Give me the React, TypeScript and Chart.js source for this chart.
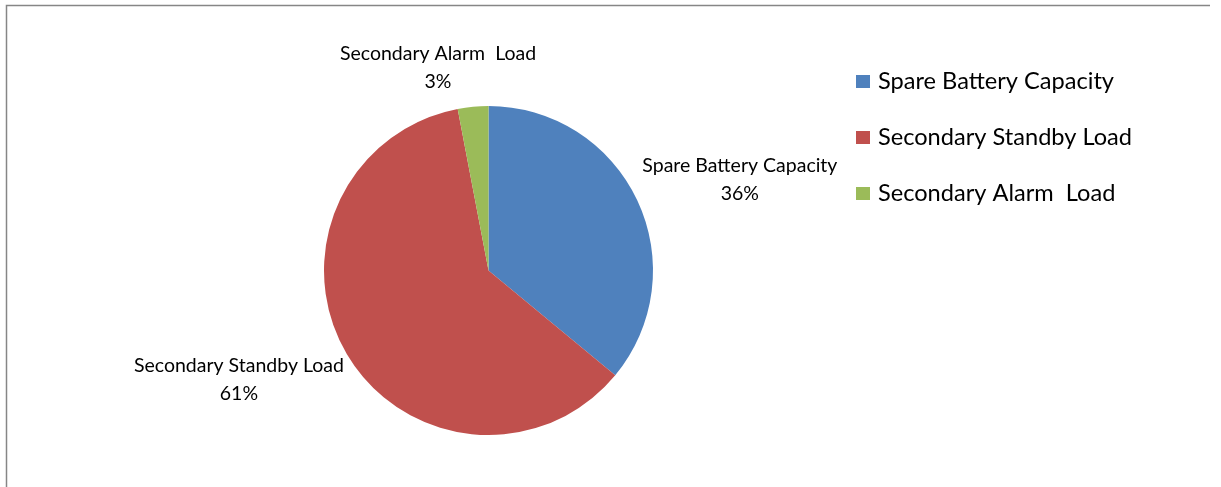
import { useEffect, useRef } from "react";
import { Chart, registerables } from "chart.js";

Chart.register(...registerables);

const categories = ["Spare Battery Capacity", "Secondary Standby Load", "Secondary Alarm  Load"];
const values = [36, 61, 3];
const colors = ["#4F81BD", "#C0504D", "#9BBB59"];

const FONT_FAMILY = "Lato, 'Open Sans', sans-serif";
const LABEL_FONT = `19.5px ${FONT_FAMILY}`;
const LEGEND_FONT = `23.6px ${FONT_FAMILY}`;

const framePlugin = {
  id: "frame",
  beforeDraw(chart: any) {
    const ctx = chart.ctx;
    ctx.save();
    ctx.fillStyle = "#ffffff";
    ctx.fillRect(0, 0, chart.width, chart.height);
    ctx.strokeStyle = "#868686";
    ctx.lineWidth = 1.5;
    ctx.beginPath();
    ctx.moveTo(6.5, chart.height);
    ctx.lineTo(6.5, 5.5);
    ctx.lineTo(1210, 5.5);
    ctx.stroke();
    ctx.restore();
  },
};

const labelPlugin = {
  id: "sliceLabels",
  afterDatasetsDraw(chart: any) {
    const ctx = chart.ctx;
    const meta = chart.getDatasetMeta(0);
    const data = chart.data.datasets[0].data as number[];
    const total = data.reduce((a, b) => a + b, 0);
    ctx.save();
    ctx.font = LABEL_FONT;
    ctx.fillStyle = "#000000";
    ctx.textAlign = "center";
    ctx.textBaseline = "alphabetic";
    const lh = 28;
    meta.data.forEach((arc: any, i: number) => {
      const { x, y, startAngle, endAngle, outerRadius } = arc.getProps(
        ["x", "y", "startAngle", "endAngle", "outerRadius"],
        true
      );
      const mid = (startAngle + endAngle) / 2;
      const ax = x + Math.cos(mid) * outerRadius;
      const ay = y + Math.sin(mid) * outerRadius;
      const lines = [chart.data.labels[i], Math.round((data[i] / total) * 100) + "%"];
      const w = Math.max(...lines.map((l: string) => ctx.measureText(l).width));
      let cx: number;
      let b1: number;
      if (ax > x + outerRadius * 0.3) {
        cx = ax + 5 + w / 2;
        b1 = ay - lh;
      } else if (ax < x - outerRadius * 0.3) {
        cx = ax - 3 - w / 2;
        b1 = ay + 18;
      } else {
        cx = ax - 35;
        b1 = ay - 19 - lh;
      }
      lines.forEach((l: string, k: number) => ctx.fillText(l, cx, b1 + k * lh));
    });
    ctx.restore();
  },
};

const legendPlugin = {
  id: "customLegend",
  afterDraw(chart: any) {
    const ctx = chart.ctx;
    ctx.save();
    ctx.font = LEGEND_FONT;
    ctx.textAlign = "left";
    ctx.textBaseline = "alphabetic";
    const bg = chart.data.datasets[0].backgroundColor as string[];
    (chart.data.labels as string[]).forEach((label, i) => {
      const top = 75 + i * 56;
      ctx.fillStyle = bg[i];
      ctx.fillRect(856, top, 14, 13);
      ctx.fillStyle = "#000000";
      ctx.fillText(label, 878, top + 14 + 0.3);
    });
    ctx.restore();
  },
};

export default function App() {
  const ref = useRef<HTMLCanvasElement | null>(null);
  useEffect(() => {
    if (!ref.current) return;
    const chart = new Chart(ref.current, {
      type: "pie",
      data: {
        labels: categories,
        datasets: [
          {
            data: values,
            backgroundColor: colors,
            borderWidth: 0,
          },
        ],
      },
      options: {
        animation: false,
        responsive: true,
        maintainAspectRatio: false,
        layout: { padding: { left: 324, top: 106, right: 568, bottom: 52 } },
        plugins: {
          legend: { display: false },
          tooltip: { enabled: false },
        },
      },
      plugins: [framePlugin, labelPlugin, legendPlugin],
    });
    return () => chart.destroy();
  }, []);
  return (
    <div style={{ position: "fixed", left: 0, top: 0, width: 1221, height: 487, background: "#fff" }}>
      <canvas ref={ref} />
    </div>
  );
}
